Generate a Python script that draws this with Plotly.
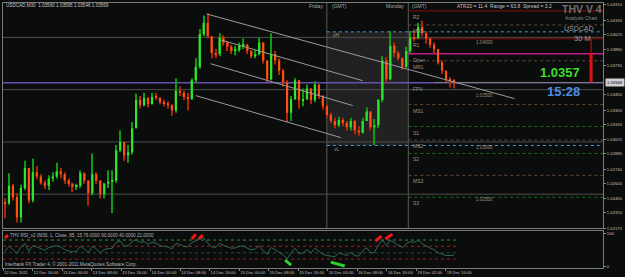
import plotly.graph_objects as go

# ---------------- data ----------------
first_open = 1.0242
closes = [1.0241, 1.0258, 1.0247, 1.0228, 1.0256, 1.0275, 1.0244, 1.0271, 1.0267, 1.0261,
          1.0258, 1.0265, 1.0267, 1.0272, 1.0269, 1.0263, 1.0260, 1.0257, 1.0258, 1.0270,
          1.0263, 1.0251, 1.0269, 1.0263, 1.0250, 1.0260, 1.0262, 1.0263, 1.0292, 1.0300,
          1.0287, 1.0290, 1.0313, 1.0340, 1.0335, 1.0342, 1.0336, 1.0343, 1.0342, 1.0338,
          1.0337, 1.0335, 1.0330, 1.0349, 1.0347, 1.0343, 1.0341, 1.0359, 1.0372, 1.0403,
          1.0414, 1.0401, 1.0385, 1.0384, 1.0400, 1.0395, 1.0391, 1.0387, 1.0388, 1.0392,
          1.0393, 1.0387, 1.0382, 1.0384, 1.0395, 1.0378, 1.0360, 1.0384, 1.0378, 1.0368,
          1.0357, 1.0328, 1.0341, 1.0359, 1.0340, 1.0341, 1.0351, 1.0340, 1.0355, 1.0344,
          1.0334, 1.0326, 1.0320, 1.0316, 1.0321, 1.0318, 1.0314, 1.0320, 1.0311, 1.0309,
          1.0320, 1.0329, 1.0314, 1.0316, 1.0340, 1.0378, 1.0360, 1.0392, 1.0385, 1.0380,
          1.0372, 1.0387, 1.0400, 1.0399, 1.0410, 1.0404, 1.0399, 1.0393, 1.0389, 1.0376,
          1.0368, 1.0360, 1.0359, 1.0358]
highs = [1.0246, 1.0270, 1.0260, 1.0251, 1.0259, 1.0282, 1.0275, 1.0284, 1.0277, 1.0269,
         1.0263, 1.0268, 1.0271, 1.0280, 1.0275, 1.0271, 1.0265, 1.0261, 1.0260, 1.0273,
         1.0271, 1.0263, 1.0289, 1.0271, 1.0263, 1.0261, 1.0273, 1.0273, 1.0297, 1.0311,
         1.0300, 1.0297, 1.0319, 1.0346, 1.0344, 1.0347, 1.0343, 1.0347, 1.0347, 1.0343,
         1.0340, 1.0339, 1.0336, 1.0361, 1.0353, 1.0349, 1.0347, 1.0361, 1.0380, 1.0408,
         1.0421, 1.0423, 1.0401, 1.0389, 1.0404, 1.0402, 1.0396, 1.0393, 1.0392, 1.0395,
         1.0399, 1.0394, 1.0388, 1.0388, 1.0400, 1.0393, 1.0378, 1.0404, 1.0387, 1.0380,
         1.0370, 1.0359, 1.0344, 1.0361, 1.0359, 1.0351, 1.0355, 1.0351, 1.0358, 1.0354,
         1.0345, 1.0336, 1.0328, 1.0323, 1.0324, 1.0323, 1.0320, 1.0323, 1.0321, 1.0315,
         1.0323, 1.0333, 1.0328, 1.0322, 1.0341, 1.0382, 1.0381, 1.0406, 1.0395, 1.0387,
         1.0381, 1.0391, 1.0406, 1.0406, 1.0414, 1.0416, 1.0406, 1.0400, 1.0395, 1.0389,
         1.0378, 1.0368, 1.0362, 1.0360]
lows = [1.0227, 1.0240, 1.0244, 1.0223, 1.0223, 1.0254, 1.0241, 1.0242, 1.0264, 1.0259,
        1.0255, 1.0254, 1.0262, 1.0265, 1.0265, 1.0260, 1.0257, 1.0252, 1.0254, 1.0256,
        1.0260, 1.0239, 1.0249, 1.0260, 1.0246, 1.0246, 1.0256, 1.0232, 1.0261, 1.0290,
        1.0282, 1.0280, 1.0288, 1.0313, 1.0332, 1.0334, 1.0333, 1.0336, 1.0340, 1.0336,
        1.0334, 1.0332, 1.0325, 1.0328, 1.0344, 1.0340, 1.0330, 1.0340, 1.0357, 1.0370,
        1.0401, 1.0399, 1.0380, 1.0380, 1.0382, 1.0392, 1.0387, 1.0384, 1.0383, 1.0386,
        1.0389, 1.0384, 1.0380, 1.0380, 1.0383, 1.0375, 1.0357, 1.0359, 1.0374, 1.0364,
        1.0353, 1.0319, 1.0320, 1.0340, 1.0332, 1.0334, 1.0340, 1.0336, 1.0338, 1.0341,
        1.0331, 1.0323, 1.0318, 1.0313, 1.0314, 1.0315, 1.0311, 1.0311, 1.0307, 1.0306,
        1.0308, 1.0320, 1.0311, 1.0297, 1.0313, 1.0338, 1.0356, 1.0359, 1.0381, 1.0378,
        1.0369, 1.0371, 1.0385, 1.0396, 1.0399, 1.0401, 1.0394, 1.0390, 1.0384, 1.0374,
        1.0365, 1.0357, 1.0352, 1.0351]
rsi = [45, 60, 50, 38, 58, 68, 45, 62, 58, 52,
       48, 56, 58, 62, 58, 50, 46, 43, 45, 60,
       52, 40, 60, 52, 40, 50, 53, 54, 72, 76,
       60, 62, 74, 80, 72, 74, 66, 72, 70, 62,
       60, 58, 52, 68, 66, 60, 58, 72, 76, 84,
       86, 70, 58, 57, 68, 62, 58, 54, 55, 60,
       61, 54, 49, 52, 62, 46, 36, 56, 50, 42,
       34, 22, 40, 54, 38, 40, 50, 40, 54, 44,
       36, 32, 30, 28, 40, 36, 32, 42, 32, 30,
       46, 56, 40, 42, 64, 80, 62, 78, 70, 64,
       56, 68, 74, 72, 78, 68, 60, 54, 50, 40,
       36, 32, 32, 33]
rsi_levels = [79, 60, 40, 21]
rsi_level_colors = ["#2a9a2a", "#b01818", "#1d5a1d", "#b01818"]
# RSI signal strokes: (x0, v0, x1, v1)
rsi_up_signals = [(0, 85, 0.75, 94), (47, 82, 48, 97), (48.75, 82, 49.75, 94),
                  (93.25, 76, 94.75, 91), (95.75, 82, 97.5, 97)]
rsi_down_signals = [(70.5, 18, 72, 3), (82, 12, 85.5, 0)]

time_labels = ["12 Dec 2011", "12 Dec 16:00", "13 Dec 00:00", "13 Dec 08:00", "13 Dec 16:00",
               "14 Dec 00:00", "14 Dec 08:00", "14 Dec 16:00", "15 Dec 00:00", "15 Dec 08:00",
               "15 Dec 16:00", "16 Dec 00:00", "16 Dec 08:00", "16 Dec 16:00", "19 Dec 02:00",
               "19 Dec 10:00"]
time_label_pos = [-0.45, 6.9, 14.35, 21.8, 29.2, 36.6, 44.1, 51.5, 59.0, 66.3,
                  73.8, 81.2, 88.6, 96.1, 103.5, 110.9]

price_ticks = [1.02175, 1.02320, 1.02460, 1.02600, 1.02740, 1.02885, 1.03025, 1.03165,
               1.03305, 1.03450, 1.03735, 1.03880, 1.04025, 1.04165, 1.04310]

round_levels = [1.0250, 1.0300, 1.0350, 1.0400]
round_labels = ["1.02500", "1.03000", "1.03500", "1.04000"]

pivot_names = ["R2", "MR2", "R1", "Open", "MR1", "FPV", "MS1", "S1", "MS2", "S2", "MS3", "S3"]
pivot_prices = [1.04253, 1.04119, 1.03986, 1.03843, 1.03776, 1.03567, 1.03357, 1.03147,
                1.03019, 1.02890, 1.02680, 1.02471]
friday_high = 1.04053
friday_low = 1.02966
bid = 1.03569
friday_idx = 81
monday_idx = 101.5

# trend channel lines (x0, p0, x1, p1)
channels = [(50.75, 1.04224, 128.25, 1.03414),
            (54.25, 1.03976, 90.0, 1.03586),
            (51.75, 1.03748, 87.5, 1.03348),
            (48.0, 1.03443, 84.5, 1.03042)]

# ---------------- build ----------------
n = len(closes)
xs = list(range(n))
opens = [first_open] + closes[:-1]
hi = [max(h, o, c) for h, o, c in zip(highs, opens, closes)]
lo = [min(l, o, c) for l, o, c in zip(lows, opens, closes)]
up = [c >= o for o, c in zip(opens, closes)]

BG = "#0b0c0c"
fig = go.Figure()

fig.add_trace(go.Bar(x=xs, y=[h - l for h, l in zip(hi, lo)], base=lo, width=0.28,
                     marker=dict(color=["#119a11" if u else "#b02408" for u in up], line_width=0),
                     xaxis="x", yaxis="y", hoverinfo="skip"))
fig.add_trace(go.Bar(x=xs, y=[c - o for o, c in zip(opens, closes)], base=opens, width=0.55,
                     marker=dict(color=["#2ee82e" if u else "#ff5212" for u in up], line_width=0),
                     xaxis="x", yaxis="y", hoverinfo="skip"))

# RSI panel
for lv, col in zip(rsi_levels, rsi_level_colors):
    fig.add_trace(go.Scatter(x=[-0.5, n - 0.5], y=[lv, lv], mode="lines",
                             line=dict(color=col, width=1, dash="dot"), xaxis="x2", yaxis="y2"))
fig.add_trace(go.Scatter(x=xs, y=rsi, mode="lines", line=dict(color="#2c6a5c", width=1),
                         xaxis="x2", yaxis="y2"))
for x0, v0, x1, v1 in rsi_up_signals:
    fig.add_trace(go.Scatter(x=[x0, x1], y=[v0, v1], mode="lines",
                             line=dict(color="#ee1a1a", width=3), xaxis="x2", yaxis="y2"))
for x0, v0, x1, v1 in rsi_down_signals:
    fig.add_trace(go.Scatter(x=[x0, x1], y=[v0, v1], mode="lines",
                             line=dict(color="#2ed42e", width=3), xaxis="x2", yaxis="y2"))

shapes = []
XR = 150.5
# Friday range box
shapes.append(dict(type="rect", xref="x", yref="y", x0=friday_idx, x1=monday_idx,
                   y0=friday_low, y1=friday_high, fillcolor="rgba(75,75,75,0.35)",
                   line_width=0, layer="below"))
for lv in round_levels:
    shapes.append(dict(type="line", xref="x", yref="y", x0=-0.5, x1=XR, y0=lv, y1=lv,
                       line=dict(color="#4e4e4e", width=1), layer="below"))
for xv in (friday_idx, monday_idx):
    shapes.append(dict(type="line", xref="x", yref="y domain", x0=xv, x1=xv, y0=0, y1=1,
                       line=dict(color="#5c5c52", width=1), layer="below"))
for yv in (friday_high, friday_low):
    shapes.append(dict(type="line", xref="x", yref="y", x0=friday_idx, x1=XR, y0=yv, y1=yv,
                       line=dict(color="#3c9ad4", width=1, dash="dot"), layer="below"))
pivot_style = {"R2": ("#8e0c0c", "solid", 1), "R1": ("#8e0c0c", "solid", 1),
               "Open": ("#c41e8c", "solid", 1.5), "FPV": ("#6a4fb4", "solid", 1.5),
               "S1": ("#1c6e1c", "dot", 1), "S2": ("#1c6e1c", "dot", 1), "S3": ("#1c6e1c", "dot", 1)}
for name, pv in zip(pivot_names, pivot_prices):
    col, dash, w = pivot_style.get(name, ("#5e4a36", "dot", 1))
    x0 = -0.5 if name == "FPV" else monday_idx
    shapes.append(dict(type="line", xref="x", yref="y", x0=x0, x1=XR, y0=pv, y1=pv,
                       line=dict(color=col, width=w, dash=dash), layer="below"))
shapes.append(dict(type="line", xref="x", yref="y", x0=108, x1=XR, y0=bid, y1=bid,
                   line=dict(color="#7c7c7c", width=1), layer="below"))
for x0, p0, x1, p1 in channels:
    shapes.append(dict(type="line", xref="x", yref="y", x0=x0, x1=x1, y0=p0, y1=p1,
                       line=dict(color="#9c9c9c", width=1)))
# daily range bar
shapes.append(dict(type="line", xref="x", yref="y", x0=147.5, x1=147.5,
                   y0=pivot_prices[2], y1=pivot_prices[3], line=dict(color="#d01010", width=1)))
shapes.append(dict(type="line", xref="x", yref="y", x0=147.5, x1=147.5,
                   y0=pivot_prices[3], y1=bid, line=dict(color="#e01010", width=3)))


def PX(px):
    return (px - 3) / 604


def PY(py):
    return (268 - py) / 266


ann = []


def txt(text, px, py, size, color, anchor="left", bold=False, fam="Liberation Sans"):
    ann.append(dict(text=("<b>%s</b>" % text) if bold else text, x=PX(px), y=PY(py),
                    xref="paper", yref="paper", xanchor=anchor, yanchor="middle",
                    showarrow=False, font=dict(size=size, color=color, family=fam)))


txt("USDCAD,M30  1.03580 1.03595 1.03546 1.03569", 4, 5, 4.6, "#c8c8c8")
txt("Friday", 327, 5, 5, "#a8a8a8", "right")
txt("(GMT)", 332, 5, 5, "#a8a8a8")
txt("Monday", 409, 5, 5, "#a8a8a8", "right")
txt("(GMT)", 413, 5, 5, "#a8a8a8")
txt("ATR20 = 11.4  Range = 63.8  Spread = 3.2", 458, 5, 5, "#c8c8c8")
txt("THV V 4", 564, 8, 10.5, "#707070", bold=True)
txt("Analysis Chart", 567, 17, 5, "#8a8a8a")
txt("USDCAD", 566, 28, 7, "#9a9a9a")
txt("30 M", 576, 37.5, 7.5, "#9a9a9a")
txt("1.0357", 542, 72, 13, "#3ddc2a", bold=True)
txt("15:28", 549, 91, 13, "#4a8fe2", bold=True)
txt("vH", 333, 34, 5, "#9a9a9a")
txt("vL", 334, 149, 5, "#9a9a9a")
txt("THV RSI_v2 (M30, 1, Close, 85, 15 79.0000 60.0000 40.0000 21.0000", 8, 235, 4.6, "#b0b0b0")
txt("Interbank FX Trader 4, \u00a9 2001-2011 MetaQuotes Software Corp.", 3, 264, 4.6, "#b8b8b8")

for lv, lab in zip(round_levels, round_labels):
    ann.append(dict(text=lab, x=118, y=lv, xref="x", yref="y", xanchor="left", yanchor="top",
                    yshift=-1, showarrow=False, font=dict(size=4.6, color="#909090")))
for name, pv in zip(pivot_names, pivot_prices):
    ann.append(dict(text=name, x=102.3, y=pv, xref="x", yref="y", xanchor="left", yanchor="top",
                    yshift=-1, showarrow=False, font=dict(size=5, color="#959595")))
ann.append(dict(text="1.03569", x=1.0, y=bid, xref="paper", yref="y", xanchor="left",
                yanchor="middle", xshift=2, showarrow=False, bgcolor="#cfcfcf",
                font=dict(size=4.2, color="#000000")))

fig.update_layout(
    width=625, height=277, margin=dict(l=3, r=18, t=2, b=9),
    paper_bgcolor=BG, plot_bgcolor=BG, showlegend=False, barmode="overlay",
    shapes=shapes, annotations=ann,
    font=dict(family="Liberation Sans", color="#b0b0b0"),
    xaxis=dict(domain=[0, 1], range=[-0.5, XR], showticklabels=False, showgrid=False,
               zeroline=False, showline=True, mirror=True, linecolor="#7a7a7a", linewidth=1,
               anchor="y", fixedrange=True),
    yaxis=dict(domain=[0.1504, 1], range=[1.02175, 1.04329], side="right",
               tickvals=price_ticks, ticktext=["%.5f" % v for v in price_ticks],
               tickfont=dict(size=4.2, color="#c0c0c0"), ticks="outside", ticklen=2,
               tickcolor="#8a8a8a", showgrid=False, zeroline=False, showline=True, mirror=True,
               linecolor="#7a7a7a", linewidth=1, anchor="x"),
    xaxis2=dict(domain=[0, 1], range=[-0.5, XR], matches="x", anchor="y2",
                tickvals=time_label_pos, ticktext=time_labels, ticklabelposition="outside right",
                tickangle=0, tickfont=dict(size=4.2, color="#c0c0c0"), ticks="outside", ticklen=2,
                tickcolor="#8a8a8a", showgrid=False, zeroline=False, showline=True,
                mirror=True, linecolor="#7a7a7a", linewidth=1),
    yaxis2=dict(domain=[0, 0.1391], range=[-6, 106], side="right", tickvals=[0, 100],
                ticktext=["0", "100"], tickfont=dict(size=4.2, color="#c0c0c0"),
                ticks="outside", ticklen=2, tickcolor="#8a8a8a", showgrid=False,
                zeroline=False, showline=True, mirror=True, linecolor="#7a7a7a",
                linewidth=1, anchor="x2"),
)

fig.write_html("out.html", config={"displayModeBar": False})
